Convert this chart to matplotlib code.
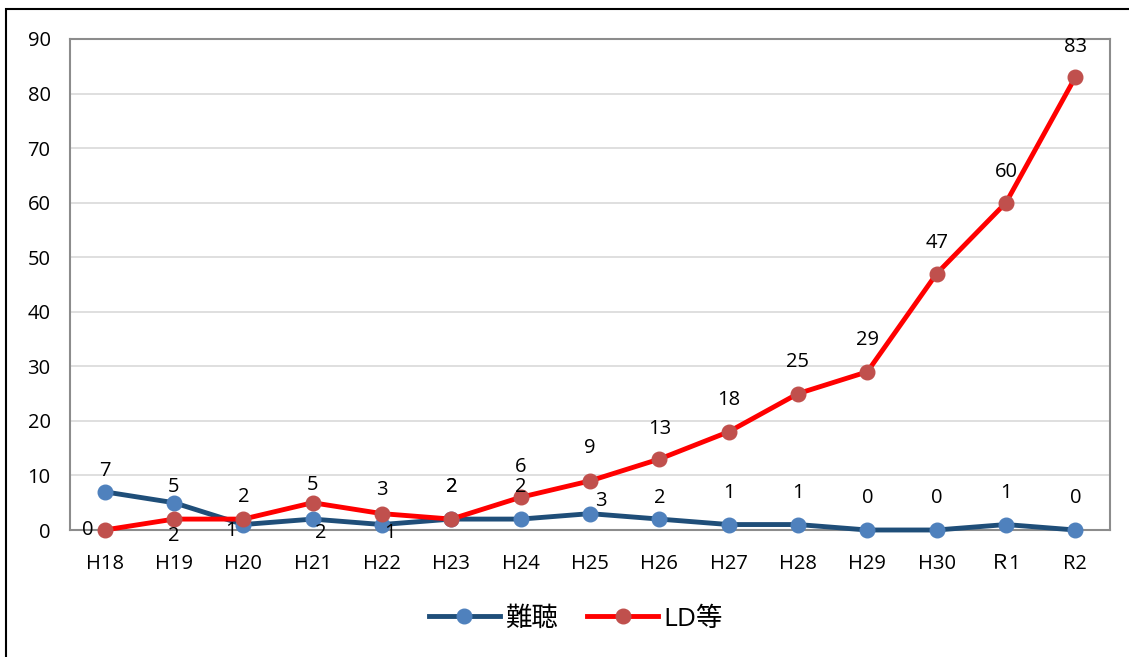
import matplotlib.pyplot as plt
from matplotlib.patches import Rectangle

plt.rcParams['font.family'] = ['Open Sans', 'Noto Sans CJK JP', 'DejaVu Sans']

# data
years = ['H18', 'H19', 'H20', 'H21', 'H22', 'H23', 'H24', 'H25',
         'H26', 'H27', 'H28', 'H29', 'H30', 'Ｒ1', 'R2']
nanchou = [7, 5, 1, 2, 1, 2, 2, 3, 2, 1, 1, 0, 0, 1, 0]
ld = [0, 2, 2, 5, 3, 2, 6, 9, 13, 18, 25, 29, 47, 60, 83]

# label offsets in points (hand placed, like the original chart)
nanchou_off = [(0, 15), (0, 11), (-9, -5), (6, -10), (6, -6), (0, 23), (0, 23),
               (8, 9), (0, 15), (0, 23), (0, 23), (0, 23), (0, 23), (0, 23), (0, 23)]
ld_off = [(-12, 0), (0, -12), (0, 16), (0, 13), (0, 17), (0, 23), (0, 22),
          (0, 24), (0, 22), (0, 23), (0, 23), (0, 23), (0, 22), (0, 22), (0, 22)]

fig = plt.figure(figsize=(11.29, 6.57), dpi=100)
ax = fig.add_axes([70 / 1129, 1 - 530 / 657, 1040 / 1129, 491 / 657])

x = [i + 0.5 for i in range(len(years))]
ax.plot(x, nanchou, color='#1F4E79', lw=3.5, marker='o', ms=10.5,
        mfc='#4F81BD', mec='#4F81BD', label='難聴', clip_on=False, zorder=3)
ax.plot(x, ld, color='#FF0000', lw=3.5, marker='o', ms=10.5,
        mfc='#C0504D', mec='#C0504D', label='LD等', clip_on=False, zorder=4)

for xi, v, off in zip(x, nanchou, nanchou_off):
    ax.annotate(str(v), (xi, v), xytext=off, textcoords='offset points',
                ha='center', va='center', fontsize=14.5, zorder=5)
for xi, v, off in zip(x, ld, ld_off):
    ax.annotate(str(v), (xi, v), xytext=off, textcoords='offset points',
                ha='center', va='center', fontsize=14.5, zorder=5)

ax.set_xlim(0, len(years))
ax.set_ylim(0, 90)
ax.set_yticks(range(0, 91, 10))
ax.set_xticks(x)
ax.set_xticklabels(years)
ax.tick_params(length=0, labelsize=14.5)
ax.tick_params(axis='x', pad=17.5)
ax.tick_params(axis='y', pad=14)
ax.grid(axis='y', color='#D9D9D9', lw=1.2)
ax.set_axisbelow(True)
for s in ax.spines.values():
    s.set_color('#8C8C8C')
    s.set_linewidth(1.5)

leg = fig.legend(loc='center', bbox_to_anchor=(0.51, 1 - 619 / 657), ncol=2,
                 frameon=False, fontsize=19, handlelength=2.7, columnspacing=1.1,
                 handletextpad=0.2)

# outer chart border
fig.patches.append(Rectangle((6 / 1129, -0.1), 1.2, 1.1 - 9 / 657,
                             transform=fig.transFigure, fill=False,
                             edgecolor='black', lw=1.5))

plt.savefig('out.png', dpi=100)
